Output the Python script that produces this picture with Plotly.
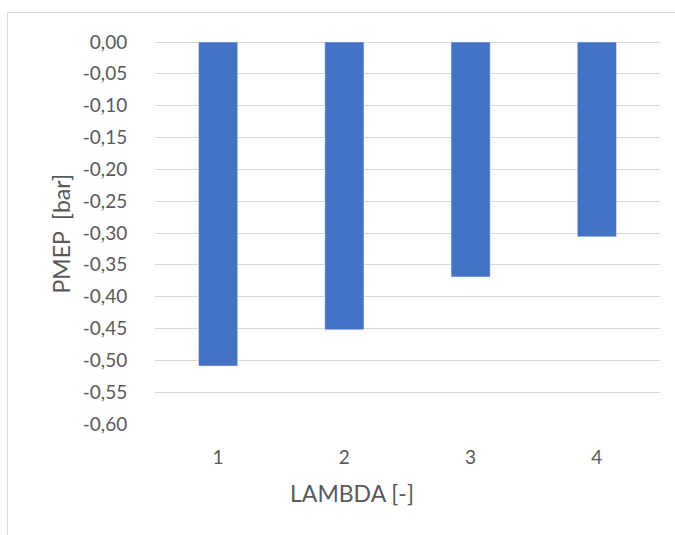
import plotly.graph_objects as go

categories = ["1", "2", "3", "4"]
pmep = [-0.509, -0.452, -0.369, -0.306]
y_tick_vals = [0.0, -0.05, -0.10, -0.15, -0.20, -0.25, -0.30, -0.35, -0.40, -0.45, -0.50, -0.55, -0.60]
y_tick_text = ["0,00", "-0,05", "-0,10", "-0,15", "-0,20", "-0,25", "-0,30",
               "-0,35", "-0,40", "-0,45", "-0,50", "-0,55", "-0,60"]
x_title = "LAMBDA [-]"
y_title = "PMEP\u00a0 [bar]"

L, R, T, B = 155, 15, 42, 111
W, H = 675, 535
pw = W - L - R
ph = H - T - B

def px(x):
    return (x - L) / pw

def py(y):
    return (H - B - y) / ph

fig = go.Figure(go.Bar(x=categories, y=pmep, marker_color="#4472C4", width=0.31))

fam = "Lato, 'Open Sans', sans-serif"
tick_font = dict(family=fam, size=19, color="#595959")
title_font = dict(family=fam, size=23, color="#595959")

fig.update_layout(
    width=W, height=H,
    margin=dict(l=L, r=R, t=T, b=B),
    paper_bgcolor="white", plot_bgcolor="white",
    font=tick_font,
    showlegend=False,
    xaxis=dict(type="category", showgrid=False, zeroline=False, showline=False,
               ticks="outside", ticklen=16, tickcolor="rgba(0,0,0,0)",
               tickfont=tick_font),
    yaxis=dict(range=[-0.6, 0], tickvals=y_tick_vals, ticktext=y_tick_text,
               showgrid=True, gridcolor="#D9D9D9", gridwidth=1,
               zeroline=True, zerolinecolor="#D9D9D9", zerolinewidth=1,
               showline=False, ticks="outside", ticklen=23, tickcolor="rgba(0,0,0,0)",
               tickfont=tick_font),
    annotations=[
        dict(text=x_title, xref="paper", yref="paper", x=px(352), y=py(493),
             xanchor="center", yanchor="middle", showarrow=False, font=title_font),
        dict(text=y_title, xref="paper", yref="paper", x=px(60), y=py(233.5),
             xanchor="center", yanchor="middle", showarrow=False, textangle=-90, font=title_font),
    ],
    shapes=[
        dict(type="line", xref="paper", yref="paper", x0=px(7.5), x1=px(7.5), y0=py(12.5), y1=py(600),
             line=dict(color="#D9D9D9", width=1)),
        dict(type="line", xref="paper", yref="paper", x0=px(7.5), x1=px(700), y0=py(12.5), y1=py(12.5),
             line=dict(color="#D9D9D9", width=1)),
    ],
)

fig.write_html("out.html")
